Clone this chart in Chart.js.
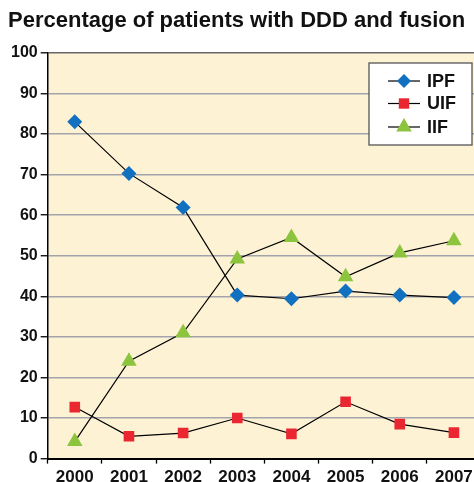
<!DOCTYPE html>
<html>
<head>
<meta charset="utf-8">
<script src="https://cdn.jsdelivr.net/npm/chart.js@4/dist/chart.umd.min.js"></script>
<style>
  html, body { margin: 0; padding: 0; background: #fff; }
  #wrap { width: 474px; height: 482px; overflow: hidden; position: relative; }
</style>
</head>
<body>
<div id="wrap"><canvas id="grafico" width="490" height="492"></canvas></div>
<script>
// valores
const anos = ['2000', '2001', '2002', '2003', '2004', '2005', '2006', '2007'];
const ipf = [83, 70.3, 61.9, 40.3, 39.4, 41.3, 40.3, 39.7];
const uif = [12.7, 5.5, 6.3, 10, 6.1, 14, 8.5, 6.4];
const iif = [4.2, 24, 31, 49.2, 54.5, 44.8, 50.7, 53.7];
const titulo = 'Percentage of patients with DDD and fusion';

const fonte = 'Liberation Sans, Arial, Helvetica, sans-serif';

// fundo creme da area do grafico
const fundo = {
    id: 'fundo',
    beforeDraw(chart) {
        const a = chart.chartArea;
        const ctx = chart.ctx;
        ctx.save();
        ctx.fillStyle = '#fdf2d4';
        ctx.fillRect(a.left, a.top, a.right - a.left, a.bottom - a.top);
        ctx.restore();
    }
};

function desenha_marcador(ctx, tipo, x, y, cor) {
    ctx.fillStyle = cor;
    ctx.beginPath();
    if (tipo === 'rectRot') {
        ctx.moveTo(x, y - 7); ctx.lineTo(x + 7, y); ctx.lineTo(x, y + 7); ctx.lineTo(x - 7, y);
    } else if (tipo === 'rect') {
        ctx.rect(x - 5.2, y - 5.2, 10.4, 10.4);
    } else {
        ctx.moveTo(x, y - 9); ctx.lineTo(x + 7.8, y + 4.5); ctx.lineTo(x - 7.8, y + 4.5);
    }
    ctx.closePath();
    ctx.fill();
}

// legenda com linha + marcador
const legenda = {
    id: 'legenda',
    afterDraw(chart) {
        const ctx = chart.ctx;
        ctx.save();
        ctx.fillStyle = '#ffffff';
        ctx.fillRect(369, 63, 103, 82);
        ctx.strokeStyle = '#555555';
        ctx.lineWidth = 1.3;
        ctx.strokeRect(369, 63, 103, 82);
        const linhas = [81, 103.5, 127];
        chart.data.datasets.forEach(function(ds, i) {
            const y = linhas[i];
            ctx.strokeStyle = '#000';
            ctx.lineWidth = 1.2;
            ctx.beginPath();
            ctx.moveTo(388, y); ctx.lineTo(420, y);
            ctx.stroke();
            desenha_marcador(ctx, ds.pointStyle, 404, y, ds.pointBackgroundColor);
            ctx.fillStyle = '#111';
            ctx.font = 'bold 18px ' + fonte;
            ctx.textBaseline = 'middle';
            ctx.fillText(ds.label, 427, y + 1);
        });
        ctx.restore();
    }
};

const ctx = document.getElementById('grafico').getContext('2d');
const myChart = new Chart(ctx, {
    type: 'line',
    data: {
        labels: anos,
        datasets: [{
            label: 'IPF',
            data: ipf,
            borderColor: '#000',
            borderWidth: 1.2,
            pointStyle: 'rectRot',
            pointRadius: 7.5,
            pointBackgroundColor: '#1170c0',
            pointBorderWidth: 0
        }, {
            label: 'UIF',
            data: uif,
            borderColor: '#000',
            borderWidth: 1.2,
            pointStyle: 'rect',
            pointRadius: 7.5,
            pointBackgroundColor: '#ea2630',
            pointBorderWidth: 0
        }, {
            label: 'IIF',
            data: iif,
            borderColor: '#000',
            borderWidth: 1.2,
            pointStyle: 'triangle',
            pointRadius: 9,
            pointBackgroundColor: '#8cc43e',
            pointBorderWidth: 0
        }]
    },
    options: {
        responsive: false,
        animation: false,
        devicePixelRatio: 1,
        layout: { padding: { left: 8, right: 6.5, top: 0, bottom: 0 } },
        plugins: {
            legend: { display: false },
            tooltip: { enabled: false },
            title: {
                display: true,
                text: titulo,
                align: 'start',
                color: '#111',
                font: { family: fonte, size: 22, weight: 'bold' },
                padding: { top: 8, bottom: 18.5 }
            }
        },
        scales: {
            x: {
                type: 'category',
                offset: true,
                grid: {
                    drawOnChartArea: false,
                    offset: true,
                    tickLength: 5,
                    tickColor: '#000',
                    tickWidth: 1.3
                },
                border: { color: '#000', width: 2 },
                ticks: {
                    color: '#111',
                    padding: 4,
                    maxRotation: 0,
                    font: { family: fonte, size: 17, weight: 'bold' }
                }
            },
            y: {
                min: 0,
                max: 100,
                grid: {
                    color: function(c) { return c.tick.value === 100 ? '#666' : '#a3a3ab'; },
                    lineWidth: function(c) { return c.tick.value === 100 ? 1.6 : 1.5; },
                    tickLength: 7,
                    tickColor: '#000',
                    tickWidth: 1.3
                },
                border: { color: '#000', width: 1.5 },
                ticks: {
                    stepSize: 10,
                    color: '#111',
                    padding: 3,
                    font: { family: fonte, size: 16, weight: 'bold' }
                }
            }
        }
    },
    plugins: [fundo, legenda]
});
</script>
</body>
</html>
